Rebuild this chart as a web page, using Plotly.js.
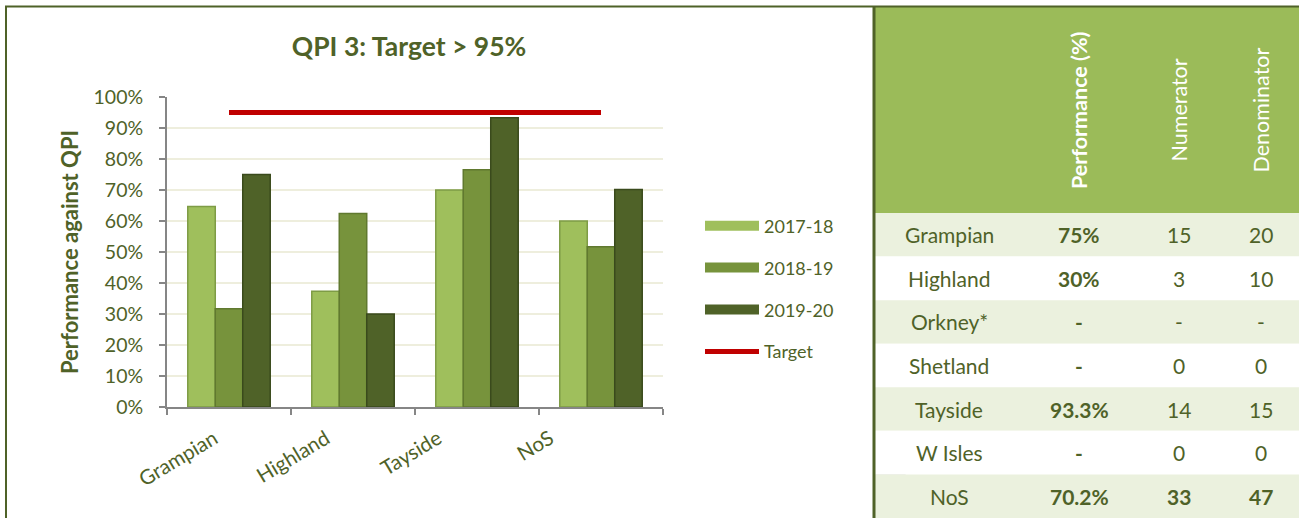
<!DOCTYPE html>
<html>
<head>
<meta charset="utf-8">
<script src="https://cdn.plot.ly/plotly-3.0.1.min.js"></script>
<style>html,body{margin:0;padding:0;background:#fff;}#chart{width:1299px;height:518px;}</style>
</head>
<body>
<div id="chart"></div>
<script>
// ---- chart data ----
const categories = ['Grampian', 'Highland', 'Tayside', 'NoS'];
const seriesNames = ['2017-18', '2018-19', '2019-20'];
const perf2017 = [64.7, 37.3, 70.0, 60.0];
const perf2018 = [31.7, 62.4, 76.5, 51.7];
const perf2019 = [75.0, 30.0, 93.3, 70.2];
const targetValue = [95, 95, 95, 95];
const chartTitle = 'QPI 3: Target &gt; 95%';
const yTitle = 'Performance against QPI';

// ---- table data ----
const tableHeaders = ['Performance (%)', 'Numerator', 'Denominator'];
const tableRegions = ['Grampian', 'Highland', 'Orkney*', 'Shetland', 'Tayside', 'W Isles', 'NoS'];
const tablePerf = ['75%', '30%', '-', '-', '93.3%', '-', '70.2%'];
const tableNum = ['15', '3', '-', '0', '14', '0', '33'];
const tableDen = ['20', '10', '-', '0', '15', '0', '47'];

// ---- styling ----
const W = 1299, H = 518;
const px = x => x / W;
const py = y => 1 - y / H;
const olive = '#4F6228';
const FONT = 'Lato, "Open Sans", sans-serif';
const barColors = ['#9FBF5C', '#77933C', '#4F6228'];
const barLines = ['#7E9C45', '#60792F', '#3A4A1C'];
const colWidths = [148, 112, 87, 77];
const colEdges = colWidths.reduce((a, w) => a.concat(a[a.length - 1] + w), [0]);
const colCenters = colWidths.map((w, i) => colEdges[i] + w / 2);
const tableW = colEdges[colEdges.length - 1];

const series = [perf2017, perf2018, perf2019];
const traces = [];
series.forEach((vals, i) => {
  traces.push({
    type: 'bar', x: categories, y: vals, name: seriesNames[i],
    marker: {color: barColors[i], line: {color: barLines[i], width: 1.5}},
    showlegend: false, xaxis: 'x', yaxis: 'y', hoverinfo: 'skip'
  });
});
// legend entries drawn as wide bars (no data points)
series.forEach((vals, i) => {
  traces.push({
    type: 'scatter', mode: 'lines', x: [null], y: [null], name: seriesNames[i],
    line: {color: barColors[i], width: 12}, legendgroup: 'g' + i,
    xaxis: 'x', yaxis: 'y', hoverinfo: 'skip'
  });
});
traces.push({
  type: 'scatter', mode: 'lines', x: categories, y: targetValue, name: 'Target',
  line: {color: '#C00000', width: 5}, legendgroup: 'g3', xaxis: 'x', yaxis: 'y', hoverinfo: 'skip'
});
// transparent carrier for the category label axis (labels sit as in the original)
traces.push({
  type: 'scatter', mode: 'markers', x: categories, y: targetValue, opacity: 0,
  showlegend: false, xaxis: 'x3', yaxis: 'y', hoverinfo: 'skip'
});

// ---- table via annotations/shapes on a hidden axis pair ----
const nRows = tableRegions.length;
const last = nRows - 1;
const shapes = [];
const annotations = [];

shapes.push({type: 'rect', xref: 'paper', yref: 'paper', layer: 'below',
  x0: px(875), x1: 1, y0: py(213), y1: py(7), fillcolor: '#9BBB59', line: {width: 0}});
tableRegions.forEach((_, r) => {
  shapes.push({type: 'rect', xref: 'x2', yref: 'y2', layer: 'below',
    x0: 0, x1: tableW, y0: r - 0.5, y1: r + 0.5,
    fillcolor: r % 2 === 0 ? '#EBF1DE' : '#FFFFFF', line: {width: 0}});
});
const bodyCols = [
  tableRegions,
  tablePerf.map(v => '<b>' + v + '</b>'),
  tableNum.map((v, r) => r === last ? '<b>' + v + '</b>' : v),
  tableDen.map((v, r) => r === last ? '<b>' + v + '</b>' : v)
];
bodyCols.forEach((col, c) => {
  col.forEach((txt, r) => {
    annotations.push({text: txt, x: colCenters[c], y: r, xref: 'x2', yref: 'y2',
      xanchor: 'center', yanchor: 'middle', showarrow: false,
      font: {family: FONT, size: 21, color: olive}});
  });
});
tableHeaders.forEach((t, i) => {
  annotations.push({
    text: i === 0 ? '<b>' + t + '</b>' : t,
    x: colCenters[i + 1], y: py(110), xref: 'x2', yref: 'paper',
    xanchor: 'center', yanchor: 'middle', textangle: -90, showarrow: false,
    font: {family: FONT, size: 21.5, color: '#FFFFFF'}
  });
});

shapes.push(
  {type: 'line', xref: 'paper', yref: 'paper', x0: px(5), x1: 1, y0: py(6.5), y1: py(6.5), line: {color: olive, width: 2}},
  {type: 'line', xref: 'paper', yref: 'paper', x0: px(6), x1: px(6), y0: py(6), y1: 0, line: {color: olive, width: 2}},
  {type: 'line', xref: 'paper', yref: 'paper', x0: px(874), x1: px(874), y0: py(6), y1: 0, line: {color: olive, width: 3}},
  {type: 'path', xref: 'paper', yref: 'paper', layer: 'below',
   path: `M ${px(875.5)} ${py(433)} L ${px(906)} ${py(475)} L ${px(875.5)} ${py(475)} Z`,
   fillcolor: '#DCDCDC', line: {width: 0}}
);

const layout = {
  width: W, height: H,
  margin: {l: 0, r: 0, t: 0, b: 0},
  paper_bgcolor: '#FFFFFF', plot_bgcolor: 'rgba(0,0,0,0)',
  font: {family: FONT, color: olive},
  showlegend: true,
  title: {text: '<b>' + chartTitle + '</b>', x: px(409), xanchor: 'center', xref: 'paper',
          y: py(47), yanchor: 'middle', yref: 'paper', font: {family: FONT, size: 26.5, color: olive}},
  barmode: 'group', bargap: 0.335, bargroupgap: 0,
  xaxis: {
    domain: [px(167), px(663)], type: 'category',
    showline: true, linecolor: '#868686', linewidth: 2,
    ticks: 'outside', tickson: 'boundaries', ticklen: 6, tickcolor: '#868686', tickwidth: 2,
    showticklabels: false, showgrid: false, zeroline: false, automargin: false
  },
  xaxis3: {
    type: 'category', anchor: 'y', overlaying: 'x', range: [-0.42, 4.01],
    showline: false, ticks: '', showgrid: false, zeroline: false,
    tickangle: -31, ticklabelstandoff: 15,
    tickfont: {family: FONT, size: 20.5, color: olive}, automargin: false
  },
  yaxis: {
    domain: [py(407), py(97)], range: [0, 100], dtick: 10, ticksuffix: '%',
    showline: true, linecolor: '#868686', linewidth: 2,
    ticks: 'outside', ticklen: 6, tickcolor: '#868686', tickwidth: 2,
    gridcolor: '#EEEEDD', gridwidth: 2, zeroline: false, ticklabelstandoff: 12,
    tickfont: {family: FONT, size: 19.5, color: olive}, automargin: false,
    title: {text: '<b>' + yTitle + '</b>', standoff: 9, font: {family: FONT, size: 22, color: olive}}
  },
  xaxis2: {domain: [px(875), 1], range: [0, tableW], visible: false, fixedrange: true},
  yaxis2: {domain: [0, py(213)], range: [nRows - 0.5, -0.5], visible: false, fixedrange: true},
  legend: {
    x: px(700), y: py(207.5), xanchor: 'left', yanchor: 'top',
    font: {family: FONT, size: 18, color: olive}, itemwidth: 54,
    tracegroupgap: 15.5, bgcolor: 'rgba(0,0,0,0)', traceorder: 'grouped'
  },
  annotations: annotations,
  shapes: shapes
};

Plotly.newPlot('chart', traces, layout, {displayModeBar: false, staticPlot: true});
</script>
</body>
</html>
